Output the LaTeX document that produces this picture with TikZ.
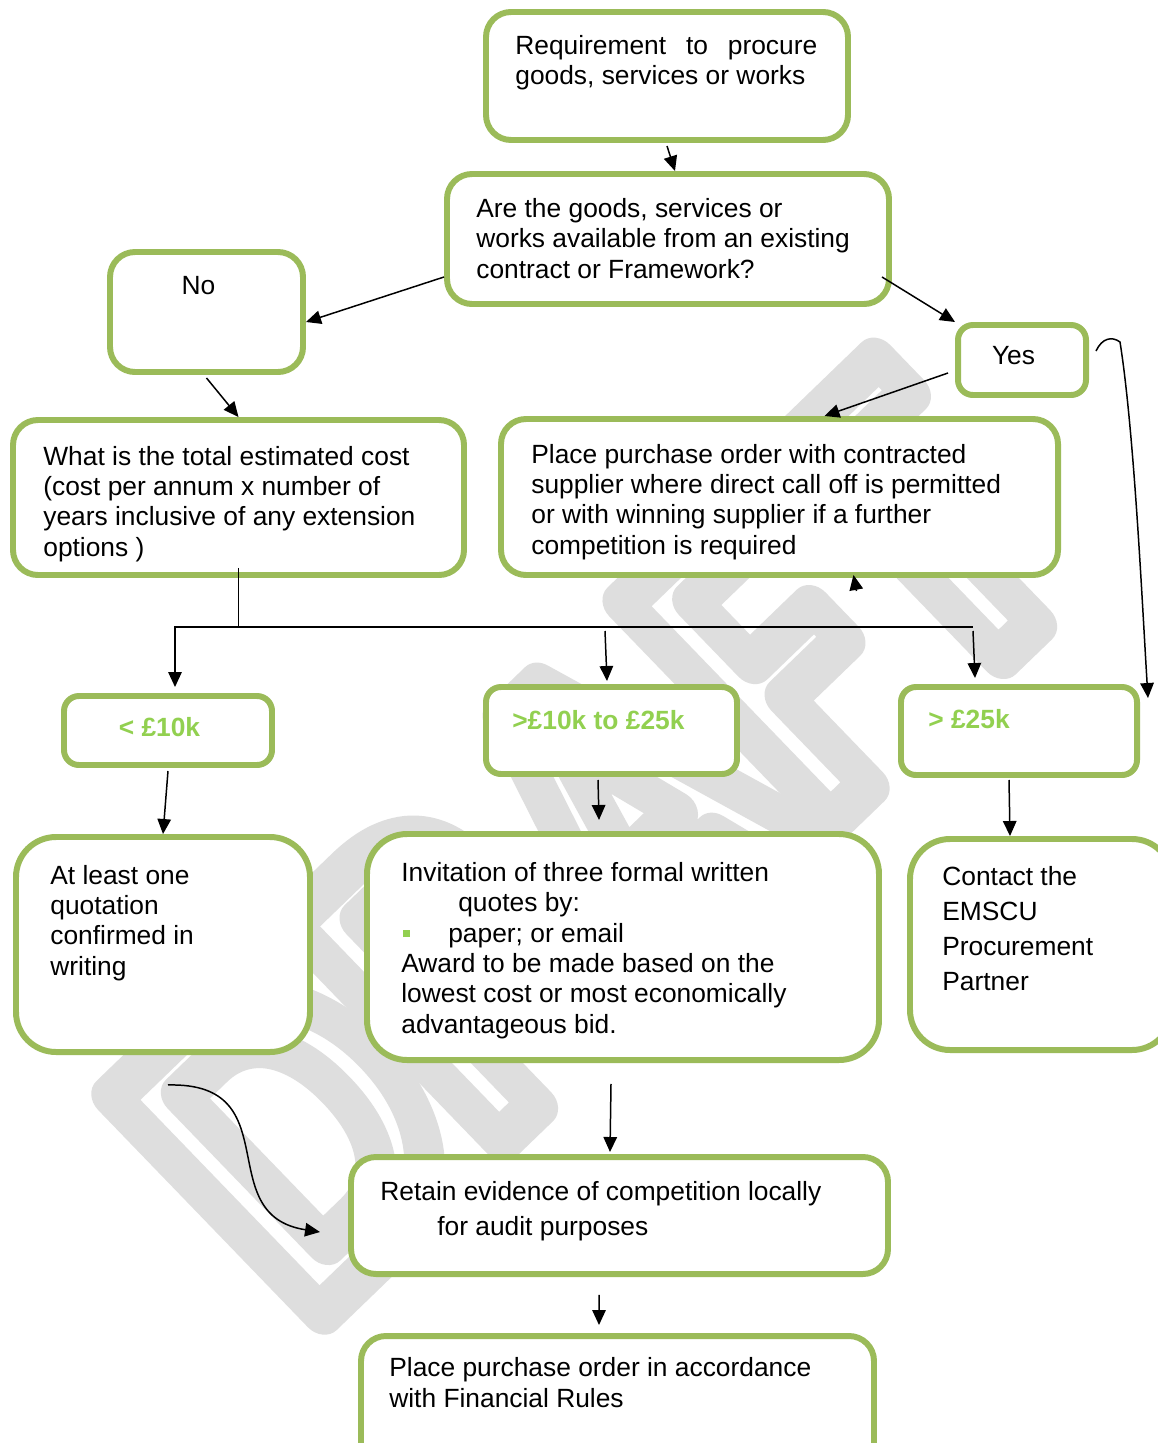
\documentclass[tikz,border=0pt]{standalone}
\usepackage{fontspec}
\setmainfont{Liberation Sans}
\newfontfamily\wmfont{Carlito}
\usepackage{graphicx}
\usetikzlibrary{arrows.meta,fit,calc}
\definecolor{boxgreen}{HTML}{9BBB59}
\definecolor{lgreen}{HTML}{92D050}
\definecolor{wmgray}{HTML}{DEDEDE}
\begin{document}
\begin{tikzpicture}[x=0.02cm,y=-0.02cm,
  box/.style={draw=boxgreen, line width=3.4pt, fill=white, rounded corners=0.5cm, inner sep=0pt},
  bigbox/.style={box, rounded corners=0.8cm},
  smallbox/.style={box, rounded corners=0.3cm},
  txt/.style={font=\fontsize{15}{17.25}\selectfont, align=left, inner sep=0pt, anchor=base west},
  widetxt/.style={txt, font=\fontsize{15}{19.8}\selectfont},
  gtxt/.style={txt, font=\fontsize{15}{17.25}\selectfont\bfseries, text=lgreen},
  arr/.style={line width=0.85pt, -{Triangle[length=0.3cm,width=0.27cm]}},
  ln/.style={line width=0.85pt}]
\useasboundingbox (0,0) rectangle (1157,1443);
\fill[white] (0,0) rectangle (1157,1443);

% watermark (outlined text)
\node[rotate=44, anchor=base west, inner sep=0pt, text=wmgray,
      font=\wmfont\bfseries\fontsize{265}{265}\selectfont] (wm) at (305,1330)
  {\scalebox{0.85}[1]{\special{pdf:literal direct 0.871 0.871 0.871 RG 1 Tr 25 w 1 j 1 J}DRAFT\special{pdf:literal direct 0 Tr}}};

% boxes
\node[box, fit={(486,12) (848,140)}] (req) {};
\node[box, fit={(447,174) (889,304)}] (goods) {};
\node[box, fit={(110,252) (303,372)}] (no) {};
\node[smallbox, fit={(958,325) (1086,395)}] (yes) {};
\node[box, fit={(13,420) (464,575)}] (what) {};
\node[box, fit={(501,419) (1058,575)}] (place) {};
\node[smallbox, fit={(64,696) (272,765)}] (lt10) {};
\node[smallbox, fit={(486,687) (737,774)}] (mid) {};
\node[smallbox, fit={(901,687) (1137,775)}] (gt25) {};
\node[bigbox, fit={(16,837) (310,1052)}] (least) {};
\node[bigbox, fit={(367,834) (879,1060)}] (invit) {};
\node[bigbox, fit={(910,839) (1172,1050)}] (contact) {};
\node[box, fit={(351,1157) (888,1274)}] (retain) {};
\node[box, fit={(361,1336) (874,1470)}] (final) {};

% texts (anchored at the baseline of their last line)
\node[txt] (reqt) at (515,85) {\makebox[6.04cm][s]{Requirement to procure}\\goods, services or works};
\node[txt] (goodst) at (476,278) {Are the goods, services or\\works available from an existing\\contract or Framework?};
\node[txt, anchor=base] (not) at (198.5,294) {No};
\node[txt, anchor=base] (yest) at (1013.5,364) {Yes};
\node[txt] (whatt) at (43,556) {What is the total estimated cost\\(cost per annum x number of\\years inclusive of any extension\\options )};
\node[txt] (placet) at (531,554) {Place purchase order with contracted\\supplier where direct call off is permitted\\or with winning supplier if a further\\competition is required};
\node[gtxt, anchor=base] (lt10t) at (159.5,736) {< £10k};
\node[gtxt] (midt) at (512,729) {>£10k to £25k};
\node[gtxt] (gt25t) at (928,728) {> £25k};
\node[txt] (leastt) at (50,975) {At least one\\quotation\\confirmed in\\writing};
\node[txt] (invitt) at (401,1033) {Invitation of three formal written\\\hspace*{1.14cm}quotes by:\\\hspace*{0.04cm}\textcolor{lgreen}{\rule[0.1cm]{0.14cm}{0.14cm}}\hspace*{0.76cm}paper; or email\\Award to be made based on the\\lowest cost or most economically\\advantageous bid.};
\node[widetxt] (contactt) at (942,990) {Contact the\\EMSCU\\Procurement\\Partner};
\node[widetxt] (retaint) at (380,1235) {Retain evidence of competition locally\\\hspace*{1.14cm}for audit purposes};
\node[txt] (finalt) at (389,1407) {Place purchase order in accordance\\with Financial Rules};

% connectors
\coordinate (br) at (238.5,627);
\coordinate (brR) at (973,627);
\coordinate (m1) at (605,631);
\coordinate (r1) at (973,631);

\draw[arr] ([yshift=-0.06cm]req.south) -- ([xshift=0.14cm]goods.north);
\draw[arr] ([yshift=-0.76cm]goods.west) -- ([yshift=-0.2cm]no.east);
\draw[arr] ([xshift=-0.2cm,yshift=-0.76cm]goods.east) -- (yes.north west);
\draw[arr] ([yshift=-0.06cm]no.south) -- (what.north);
\draw[arr] ([xshift=-0.14cm,yshift=-0.26cm]yes.west) -- ([xshift=0.9cm]place.north);
\draw[arr] ([xshift=0.14cm,yshift=0.18cm]yes.east) .. controls (1102,338) and (1112,336) .. (1120,342)
   .. controls (1134,430) and (1142,600) .. ([xshift=0.16cm,yshift=-0.28cm]gt25.north east);
\draw[arr] ([xshift=1.54cm,yshift=-0.26cm]place.south) -- ([xshift=1.48cm,yshift=0.06cm]place.south);
\draw[arr] ([yshift=0.2cm]what.south) -- (br) -| ([xshift=0.14cm,yshift=0.12cm]lt10.north);
\draw[ln] (br) -- (brR);
\draw[arr] (m1) -- ([xshift=-0.09cm,yshift=0.06cm]mid.north);
\draw[arr] (r1) -- ([xshift=-0.88cm,yshift=0.12cm]gt25.north);
\draw[arr] ([yshift=-0.06cm]lt10.south) -- (least.north);
\draw[arr] ([xshift=-0.27cm,yshift=-0.06cm]mid.south) -- ([xshift=-0.48cm,yshift=0.22cm]invit.north);
\draw[arr] ([xshift=-0.2cm,yshift=-0.04cm]gt25.south) -- ([xshift=-0.62cm]contact.north);
\draw[arr] ([xshift=-0.24cm,yshift=-0.42cm]invit.south) -- ([xshift=-0.19cm,yshift=0.04cm]retain.north);
\draw[arr] ([xshift=0.1cm,yshift=-0.6cm]least.south) .. controls (290,1082) and (210,1215) .. ([xshift=-0.56cm,yshift=-0.33cm]retain.west);
\draw[arr] ([xshift=-0.41cm,yshift=-0.36cm]retain.south) -- ([xshift=-0.37cm,yshift=0.16cm]final.north);
\end{tikzpicture}
\end{document}
